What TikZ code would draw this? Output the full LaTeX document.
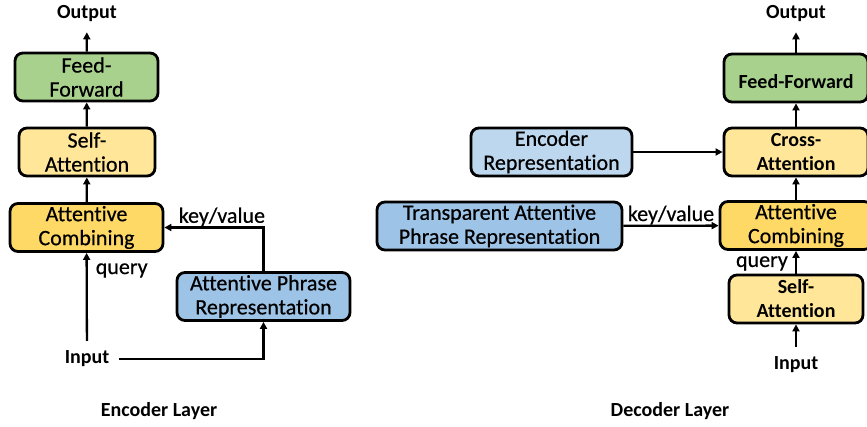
\documentclass[tikz,border=0pt]{standalone}
\usepackage{fontspec}
\setmainfont{Carlito}[Ligatures=NoCommon, UprightFeatures={FakeBold=0.5}]
\usetikzlibrary{arrows.meta, positioning}

\definecolor{ffgreen}{HTML}{A9D18E}
\definecolor{attlight}{HTML}{FFE699}
\definecolor{attgold}{HTML}{FFD966}
\definecolor{repblue}{HTML}{9DC3E6}
\definecolor{replight}{HTML}{BDD7EE}

\begin{document}
\begin{tikzpicture}[
    x=1pt, y=-1pt,
    every node/.style={font=\fontsize{22}{24}\selectfont, align=center, inner sep=0pt},
    block/.style={draw, line width=2.8pt, rounded corners=8pt, minimum height=48pt,
        execute at begin node={\rule{0pt}{21pt}}},
    io/.style={font=\fontsize{20}{24}\selectfont\bfseries, inner sep=9pt},
    small/.style={font=\fontsize{20}{24}\selectfont\bfseries},
    >={Triangle[length=7pt,width=7pt]},
    every path/.style={line width=2.3pt}
]
\useasboundingbox (0,0) rectangle (867,427);

% Encoder layer
\node[block, fill=ffgreen, minimum width=143pt] (encff) at (86.5,77) {Feed-\\Forward};
\node[block, fill=attlight, minimum width=136pt] (encsa) at (87,152) {Self-\\Attention};
\node[block, fill=attgold, minimum width=153pt] (encac) at (86.5,227.5) {Attentive\\Combining};
\node[block, fill=repblue, minimum width=173pt] (encapr) at (263.5,296.5) {Attentive Phrase\\Representation};
\node[io] (encout) at (87,14) {Output};
\node[io] (encin) at (87,359) {Input};
\node[small] (enclabel) at (159,411) {Encoder Layer};

\draw[->] (encin) -- (encac) node[pos=0.8, right=8pt] {query};
\draw[->] (encin.east) -| (encapr.south);
\draw[->] (encapr.north) |- (encac.east) node[pos=0.71, above=0pt] {key/value};
\draw[->] (encac) -- (encsa);
\draw[->] (encsa) -- (encff);
\draw[->] (encff) -- (encout);

% Decoder layer
\node[block, fill=ffgreen, minimum width=144pt] (decff) at (796,78) {\bfseries\fontsize{20}{24}\selectfont Feed-Forward};
\node[block, fill=attlight, minimum width=144pt] (decca) at (796,152) {\bfseries\fontsize{20}{24}\selectfont Cross-\\\bfseries\fontsize{20}{24}\selectfont Attention};
\node[block, fill=attgold, minimum width=152pt] (decac) at (796,225.5) {Attentive\\Combining};
\node[block, fill=attlight, minimum width=134pt] (decsa) at (796,299) {\bfseries\fontsize{20}{24}\selectfont Self-\\\bfseries\fontsize{20}{24}\selectfont Attention};
\node[block, fill=replight, minimum width=161pt] (decer) at (551.5,152) {Encoder\\Representation};
\node[block, fill=repblue, minimum width=245pt] (dectapr) at (499.5,226) {Transparent Attentive\\Phrase Representation};
\node[io] (decout) at (796,14) {Output};
\node[io] (decin) at (796,365) {Input};
\node[small] (declabel) at (670,411) {Decoder Layer};

\draw[->] (decin) -- (decsa);
\draw[->] (decsa) -- (decac) node[pos=0.45, left=7pt] {query};
\draw[->] (decac) -- (decca);
\draw[->] (decca) -- (decff);
\draw[->] (decff) -- (decout);
\draw[->] (decer) -- (decca);
\draw[->] (dectapr) -- (decac) node[midway, above=0pt] {key/value};
\end{tikzpicture}
\end{document}
